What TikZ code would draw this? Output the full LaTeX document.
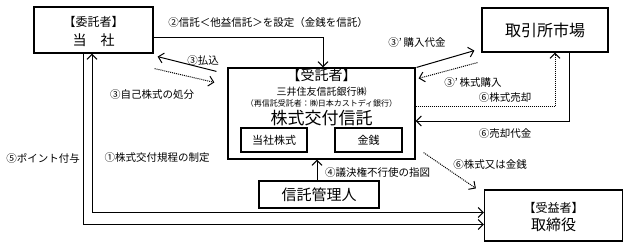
\documentclass[tikz,border=0pt]{standalone}
\usepackage{fontspec}
\setmainfont{Noto Sans CJK JP}
\usetikzlibrary{arrows.meta, positioning, calc}

\newcommand{\fsz}[1]{\fontsize{#1}{#1}\selectfont}

\begin{document}
\begin{tikzpicture}[
    x=1pt, y=-1pt,
    box/.style={rectangle, draw, line width=1.2pt, inner sep=0pt, align=center},
    inbox/.style={rectangle, draw, line width=1.1pt, minimum width=66pt,
                  minimum height=24pt, inner sep=0pt, font=\fsz{11}},
    lbl/.style={font=\fsz{10.5}, inner sep=1pt},
    rel/.style={-{Straight Barb[length=5pt,width=10pt]}, line width=1pt},
    dotrel/.style={rel, densely dotted},
]
    \useasboundingbox (0,0) rectangle (631,251);

    % trustor
    \node[box, minimum width=119pt, minimum height=46pt] (trustor) at (93.5,30) {};
    \node[font=\fsz{12}] (trustorrole) at (93.5,22) {【委託者】};
    \node[font=\fsz{14}] (trustorname) at (93.5,40) {当　社};

    % market
    \node[box, minimum width=126pt, minimum height=44pt, font=\fsz{16}] (market) at (545,30) {取引所市場};

    % trust
    \node[box, minimum width=187pt, minimum height=91pt] (trust) at (321.5,113.5) {};
    \node[font=\fsz{14}] (trustrole) at (321.5,75) {【受託者】};
    \node[font=\fsz{10}] (trustbank) at (321.5,92) {三井住友信託銀行㈱};
    \node[font=\fsz{8}] (trustsub) at (321.5,103) {（再信託受託者：㈱日本カストディ銀行）};
    \node[font=\fsz{17}] (trustname) at (321.5,118) {株式交付信託};
    \node[inbox] (shares) at (274,140) {当社株式};
    \node[inbox, minimum width=67pt] (cash) at (368.5,140) {金銭};

    % administrator
    \node[box, minimum width=120pt, minimum height=27pt, font=\fsz{15}] (admin) at (319,194.5) {信託管理人};

    % beneficiary
    \node[box, minimum width=138pt, minimum height=51pt] (benef) at (553.5,215.5) {};
    \node[font=\fsz{12}] (benefrole) at (553.5,208) {【受益者】};
    \node[font=\fsz{15}] (benefname) at (553.5,225) {取締役};

    % relationships
    \draw[rel] ([yshift=-8]trustor.east) -| ([xshift=1.5]trust.north);
    \node[lbl] (l2) at (268,23) {②信託＜他益信託＞を設定（金銭を信託）};

    \draw[rel] ([xshift=-11,yshift=-4]trust.north west) -- ([xshift=4,yshift=-3]trustor.south east);
    \node[lbl] (l3a) at (203,61) {③払込};
    \draw[dotrel] ([xshift=1,yshift=-15]trustor.south east) -- ([xshift=-13,yshift=-15]trust.north west);
    \node[lbl] (l3b) at (152,95) {③自己株式の処分};

    \draw[rel] ([xshift=1]trust.north east) -- ([xshift=-7,yshift=2]market.south west);
    \node[lbl] (l3c) at (417,43) {③’\,購入代金};
    \draw[dotrel] ([xshift=-4,yshift=-10]market.south west) -- ([xshift=3,yshift=-11]trust.north east);
    \node[lbl] (l3d) at (473,83) {③’\,株式購入};

    \draw[dotrel] ([yshift=6.5]trust.east) -| ([xshift=10]market.south);
    \node[lbl] (l6a) at (505,98) {⑥株式売却};
    \draw[rel] ([xshift=24]market.south) |- ([yshift=-7.5]trust.east);
    \node[lbl] (l6b) at (505,134) {⑥売却代金};

    \draw[dotrel] ([xshift=8,yshift=7]trust.south east) -- ([xshift=-8,yshift=1]benef.north west);
    \node[lbl] (l6c) at (490,165) {⑥株式又は金銭};

    \draw[rel] ([xshift=-2]admin.north) -- ([xshift=-2]admin.north |- trust.south);
    \node[lbl, anchor=west] (l4) at (324,173) {④議決権不行使の指図};

    \draw[rel] ([xshift=-10.5]trustor.south) |- ([yshift=-9]benef.west);
    \node[lbl] (l5) at (43,158) {⑤ポイント付与};
    \draw[rel, {Straight Barb[length=5pt,width=10pt]}-{Straight Barb[length=5pt,width=10pt]}]
        ([xshift=-1.5]trustor.south) |- ([yshift=3]benef.west);
    \node[lbl] (l1) at (157,158) {①株式交付規程の制定};

\end{tikzpicture}
\end{document}
